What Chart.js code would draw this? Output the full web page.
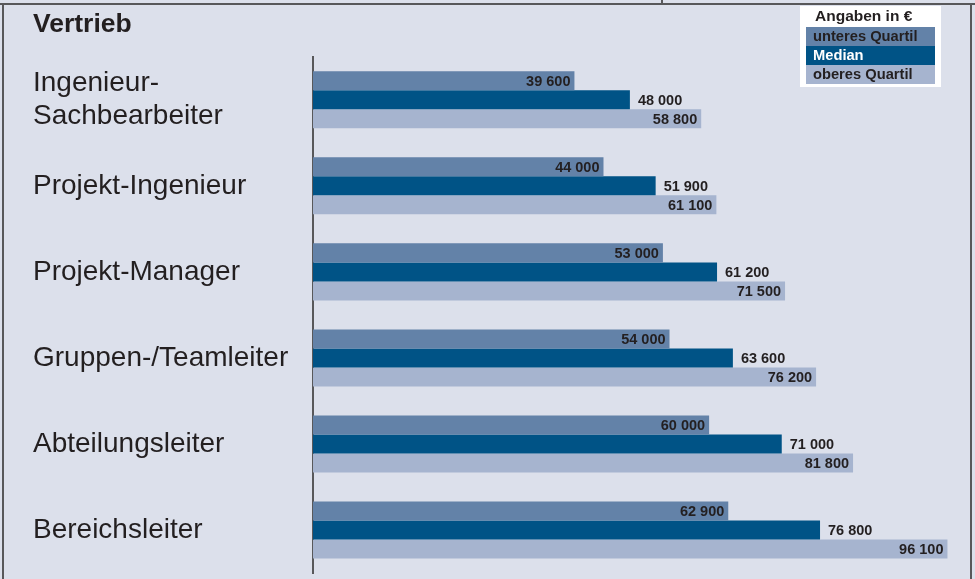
<!DOCTYPE html>
<html>
<head>
<meta charset="utf-8">
<script src="https://cdn.jsdelivr.net/npm/chart.js@4.4.1/dist/chart.umd.min.js"></script>
<style>
  html, body { margin: 0; padding: 0; background: #dce0eb; }
  #wrap { width: 975px; height: 579px; position: relative; }
</style>
</head>
<body>
<div id="wrap"><canvas id="c" width="975" height="579"></canvas></div>
<script>
const titleText = "Vertrieb";
const legendTitle = "Angaben in €";
const categories = [["Ingenieur-", "Sachbearbeiter"], "Projekt-Ingenieur", "Projekt-Manager", "Gruppen-/Teamleiter", "Abteilungsleiter", "Bereichsleiter"];
const seriesNames = ["unteres Quartil", "Median", "oberes Quartil"];
const lowerQuartile = [39600, 44000, 53000, 54000, 60000, 62900];
const median = [48000, 51900, 61200, 63600, 71000, 76800];
const upperQuartile = [58800, 61100, 71500, 76200, 81800, 96100];

const colors = ["#6382a8", "#005386", "#a6b4cf"];
const textDark = "#231f20";
const fontFam = "'Liberation Sans', Arial, sans-serif";

function fmt(v) {
  return String(v).replace(/\B(?=(\d{3})+(?!\d))/g, " ");
}

const framePlugin = {
  id: "frame",
  beforeDraw(chart) {
    const ctx = chart.ctx;
    ctx.save();
    ctx.fillStyle = "#dce0eb";
    ctx.fillRect(0, 0, chart.width, chart.height);
    ctx.strokeStyle = "#58585a";
    ctx.lineWidth = 2;
    ctx.beginPath();
    ctx.moveTo(0, 4); ctx.lineTo(chart.width, 4);
    ctx.moveTo(3, 4); ctx.lineTo(3, chart.height);
    ctx.moveTo(971, 4); ctx.lineTo(971, chart.height);
    ctx.moveTo(662, 0); ctx.lineTo(662, 4);
    ctx.stroke();
    ctx.restore();
  }
};

const labelPlugin = {
  id: "valueLabels",
  afterDatasetsDraw(chart) {
    const ctx = chart.ctx;
    ctx.save();
    ctx.font = "bold 14.5px " + fontFam;
    ctx.fillStyle = textDark;
    ctx.textBaseline = "middle";
    chart.data.datasets.forEach((ds, di) => {
      const meta = chart.getDatasetMeta(di);
      meta.data.forEach((bar, i) => {
        const txt = fmt(ds.data[i]);
        if (di === 1) {
          ctx.textAlign = "left";
          ctx.fillText(txt, bar.x + 8, bar.y + 1);
        } else {
          ctx.textAlign = "right";
          ctx.fillText(txt, bar.x - 4, bar.y + 1);
        }
      });
    });
    ctx.restore();
  }
};

const legendPlugin = {
  id: "boxLegend",
  afterDraw(chart) {
    const ctx = chart.ctx;
    ctx.save();
    ctx.fillStyle = "#ffffff";
    ctx.fillRect(800, 6, 141, 81);
    ctx.textBaseline = "middle";
    ctx.textAlign = "left";
    ctx.fillStyle = textDark;
    ctx.font = "bold 15.5px " + fontFam;
    ctx.fillText(legendTitle, 815, 17);
    ctx.font = "bold 14.7px " + fontFam;
    chart.data.datasets.forEach((ds, i) => {
      const y = 27 + i * 19;
      ctx.fillStyle = ds.backgroundColor;
      ctx.fillRect(806, y, 129, 19);
      ctx.fillStyle = i === 1 ? "#ffffff" : textDark;
      ctx.fillText(ds.label, 813, y + 10);
    });
    ctx.restore();
  }
};

new Chart(document.getElementById("c"), {
  type: "bar",
  data: {
    labels: categories,
    datasets: [
      { label: seriesNames[0], data: lowerQuartile, backgroundColor: colors[0] },
      { label: seriesNames[1], data: median, backgroundColor: colors[1] },
      { label: seriesNames[2], data: upperQuartile, backgroundColor: colors[2] }
    ]
  },
  options: {
    indexAxis: "y",
    responsive: false,
    animation: false,
    devicePixelRatio: 1,
    layout: { padding: { left: 33, right: 15, top: 9, bottom: 6 } },
    datasets: { bar: { barPercentage: 1, categoryPercentage: 0.663, borderWidth: 0 } },
    plugins: {
      legend: { display: false },
      tooltip: { enabled: false },
      title: {
        display: true,
        text: titleText,
        align: "start",
        color: textDark,
        font: { family: fontFam, size: 26.5, weight: "bold", lineHeight: 1.2 },
        padding: { top: 0, bottom: 16 }
      }
    },
    scales: {
      x: { display: false, min: 0, max: 98000 },
      y: {
        grid: { display: false, drawTicks: false },
        border: { display: true, color: "#58585a", width: 2 },
        ticks: {
          crossAlign: "far",
          color: textDark,
          font: { family: fontFam, size: 28, lineHeight: 1.15 },
          padding: 0
        },
        afterFit(axis) {
          axis.width = 280;
          axis.paddingTop = 0;
          axis.paddingBottom = 0;
        }
      }
    }
  },
  plugins: [framePlugin, labelPlugin, legendPlugin]
});
</script>
</body>
</html>
